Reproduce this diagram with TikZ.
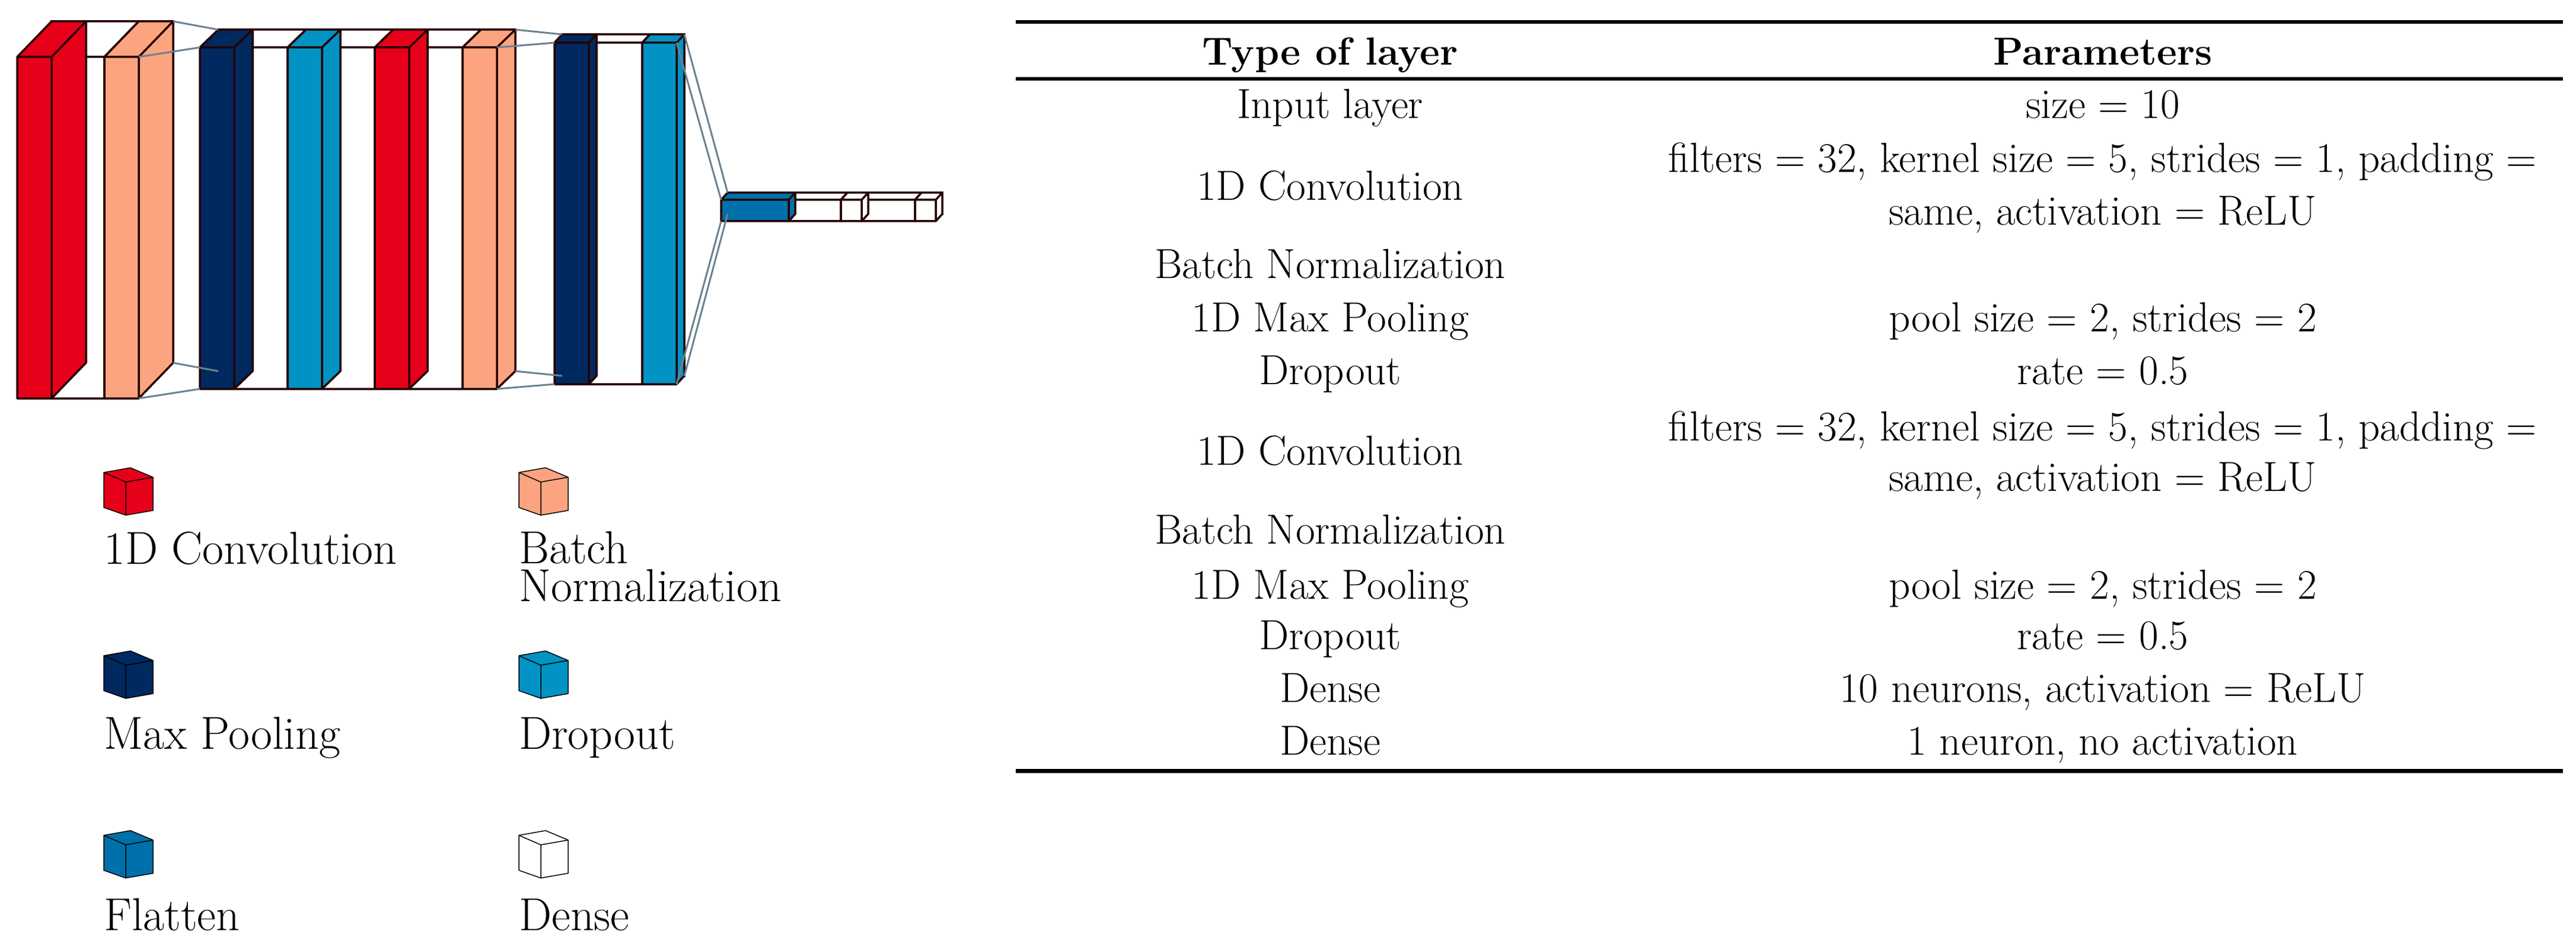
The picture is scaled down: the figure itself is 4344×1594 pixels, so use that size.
\documentclass[tikz,border=0pt]{standalone}
\begin{document}
\definecolor{cconv}{HTML}{E60019}
\definecolor{cbn}{HTML}{FCA47F}
\definecolor{cmp}{HTML}{00295F}
\definecolor{cdrop}{HTML}{0093C4}
\definecolor{cflat}{HTML}{0070AA}
\definecolor{clink}{HTML}{6A8290}
\newcommand{\lbox}[7]{%
  \filldraw[fill=#7,draw=black!85!red,line width=3.5pt,line join=round]
    (#2,#3)--(#2+#5,#3+#6)--(#2+#5,#4+#6)--(#2,#4)--cycle
    (#1,#3)--(#1+#5,#3+#6)--(#2+#5,#3+#6)--(#2,#3)--cycle
    (#1,#3) rectangle (#2,#4);}
\newcommand{\backface}[6]{%
  \draw[black!85!red,line width=3.5pt,fill=white] (#1+#5,#3+#6) rectangle (#2+#5,#4+#6);}
\newcommand{\legcube}[3]{%
  \begin{scope}[shift={(#1,#2)}]
  \filldraw[fill=#3,draw=black,line width=1.5pt,line join=round]
   (0,0)--(45,-8)--(83,8)--(37,16)--cycle
   (0,0)--(37,16)--(37,72)--(0,59)--cycle
   (37,16)--(83,8)--(83,64)--(37,72)--cycle;
  \end{scope}}
\begin{tikzpicture}[x=1pt,y=-1pt]
\useasboundingbox (0,0) rectangle (4344,1594);
\tikzset{link/.style={clink,line width=3pt},
  legtxt/.style={anchor=base west,inner sep=0pt,font=\fontsize{78}{60}\selectfont},
  tabtxt/.style={anchor=base,inner sep=0pt,font=\fontsize{71}{89}\selectfont,align=center},
  rule/.style={line width=6pt}}
% group 1
\backface{29}{234}{96}{672}{58}{-60}
\lbox{87}{176}{96}{672}{58}{-60}{white}
\lbox{29}{87}{96}{672}{58}{-60}{cconv}
\lbox{176}{234}{96}{672}{58}{-60}{cbn}
% group 2
\backface{337}{838}{80}{656}{31}{-30}
\lbox{395}{485}{80}{656}{31}{-30}{white}
\lbox{543}{632}{80}{656}{31}{-30}{white}
\lbox{690}{780}{80}{656}{31}{-30}{white}
\lbox{337}{395}{80}{656}{31}{-30}{cmp}
\lbox{485}{543}{80}{656}{31}{-30}{cdrop}
\lbox{632}{690}{80}{656}{31}{-30}{cconv}
\lbox{780}{838}{80}{656}{31}{-30}{cbn}
% group 3
\backface{935}{1141}{72}{648}{13}{-14}
\lbox{993}{1083}{72}{648}{13}{-14}{white}
\lbox{935}{993}{72}{648}{13}{-14}{cmp}
\lbox{1083}{1141}{72}{648}{13}{-14}{cdrop}
% group 4
\backface{1216}{1578}{337}{373}{11}{-12}
\lbox{1330}{1418}{337}{373}{11}{-12}{white}
\lbox{1453}{1543}{337}{373}{11}{-12}{white}
\lbox{1216}{1330}{337}{373}{11}{-12}{cflat}
\lbox{1418}{1453}{337}{373}{11}{-12}{white}
\lbox{1543}{1578}{337}{373}{11}{-12}{white}
% links
\draw[link] (234,96)--(337,80) (292,36)--(368,50) (234,672)--(337,656) (292,612)--(368,626);
\draw[link] (838,80)--(935,72) (869,50)--(948,58) (838,656)--(935,648) (869,626)--(948,634);
\draw[link] (1141,72)--(1216,337) (1154,58)--(1227,325) (1141,648)--(1216,373) (1154,634)--(1227,361);
% legend
\legcube{175}{797}{cconv}
\legcube{875}{797}{cbn}
\legcube{175}{1106}{cmp}
\legcube{875}{1106}{cdrop}
\legcube{175}{1409}{cflat}
\legcube{875}{1409}{white}
\node[legtxt] (l1) at (175,951) {1D Convolution};
\node[legtxt] (l2a) at (875,950) {Batch};
\node[legtxt] (l2b) at (875,1014) {Normalization};
\node[legtxt] (l3) at (175,1263) {Max Pooling};
\node[legtxt] (l4) at (875,1263) {Dropout};
\node[legtxt] (l5) at (175,1569) {Flatten};
\node[legtxt] (l6) at (875,1569) {Dense};
% table
\draw[rule] (1713,37)--(4322,37);
\draw[rule] (1713,133)--(4322,133);
\draw[rule,line width=7pt] (1713,1300)--(4322,1300);
\node[tabtxt,font=\fontsize{66}{89}\selectfont\bfseries] (h1) at (2243,110) {Type of layer};
\node[tabtxt,font=\fontsize{66}{89}\selectfont\bfseries] (h2) at (3546,110) {Parameters};
\node[tabtxt] (a1) at (2243,200) {Input layer};
\node[tabtxt] (b1) at (3546,200) {size = 10};
\node[tabtxt] (a2) at (2243,338) {1D Convolution};
\node[tabtxt] (b2a) at (3546,291) {filters = 32, kernel size = 5, strides = 1, padding =};
\node[tabtxt] (b2b) at (3546,380) {same, activation = ReLU};
\node[tabtxt] (a3) at (2243,469) {Batch Normalization};
\node[tabtxt] (a4) at (2243,559) {1D Max Pooling};
\node[tabtxt] (b4) at (3546,559) {pool size = 2, strides = 2};
\node[tabtxt] (a5) at (2243,648) {Dropout};
\node[tabtxt] (b5) at (3546,648) {rate = 0.5};
\node[tabtxt] (a6) at (2243,784) {1D Convolution};
\node[tabtxt] (b6a) at (3546,743) {filters = 32, kernel size = 5, strides = 1, padding =};
\node[tabtxt] (b6b) at (3546,828) {same, activation = ReLU};
\node[tabtxt] (a7) at (2243,917) {Batch Normalization};
\node[tabtxt] (a8) at (2243,1010) {1D Max Pooling};
\node[tabtxt] (b8) at (3546,1010) {pool size = 2, strides = 2};
\node[tabtxt] (a9) at (2243,1095) {Dropout};
\node[tabtxt] (b9) at (3546,1095) {rate = 0.5};
\node[tabtxt] (a10) at (2243,1184) {Dense};
\node[tabtxt] (b10) at (3546,1184) {10 neurons, activation = ReLU};
\node[tabtxt] (a11) at (2243,1273) {Dense};
\node[tabtxt] (b11) at (3546,1273) {1 neuron, no activation};
\end{tikzpicture}
\end{document}
